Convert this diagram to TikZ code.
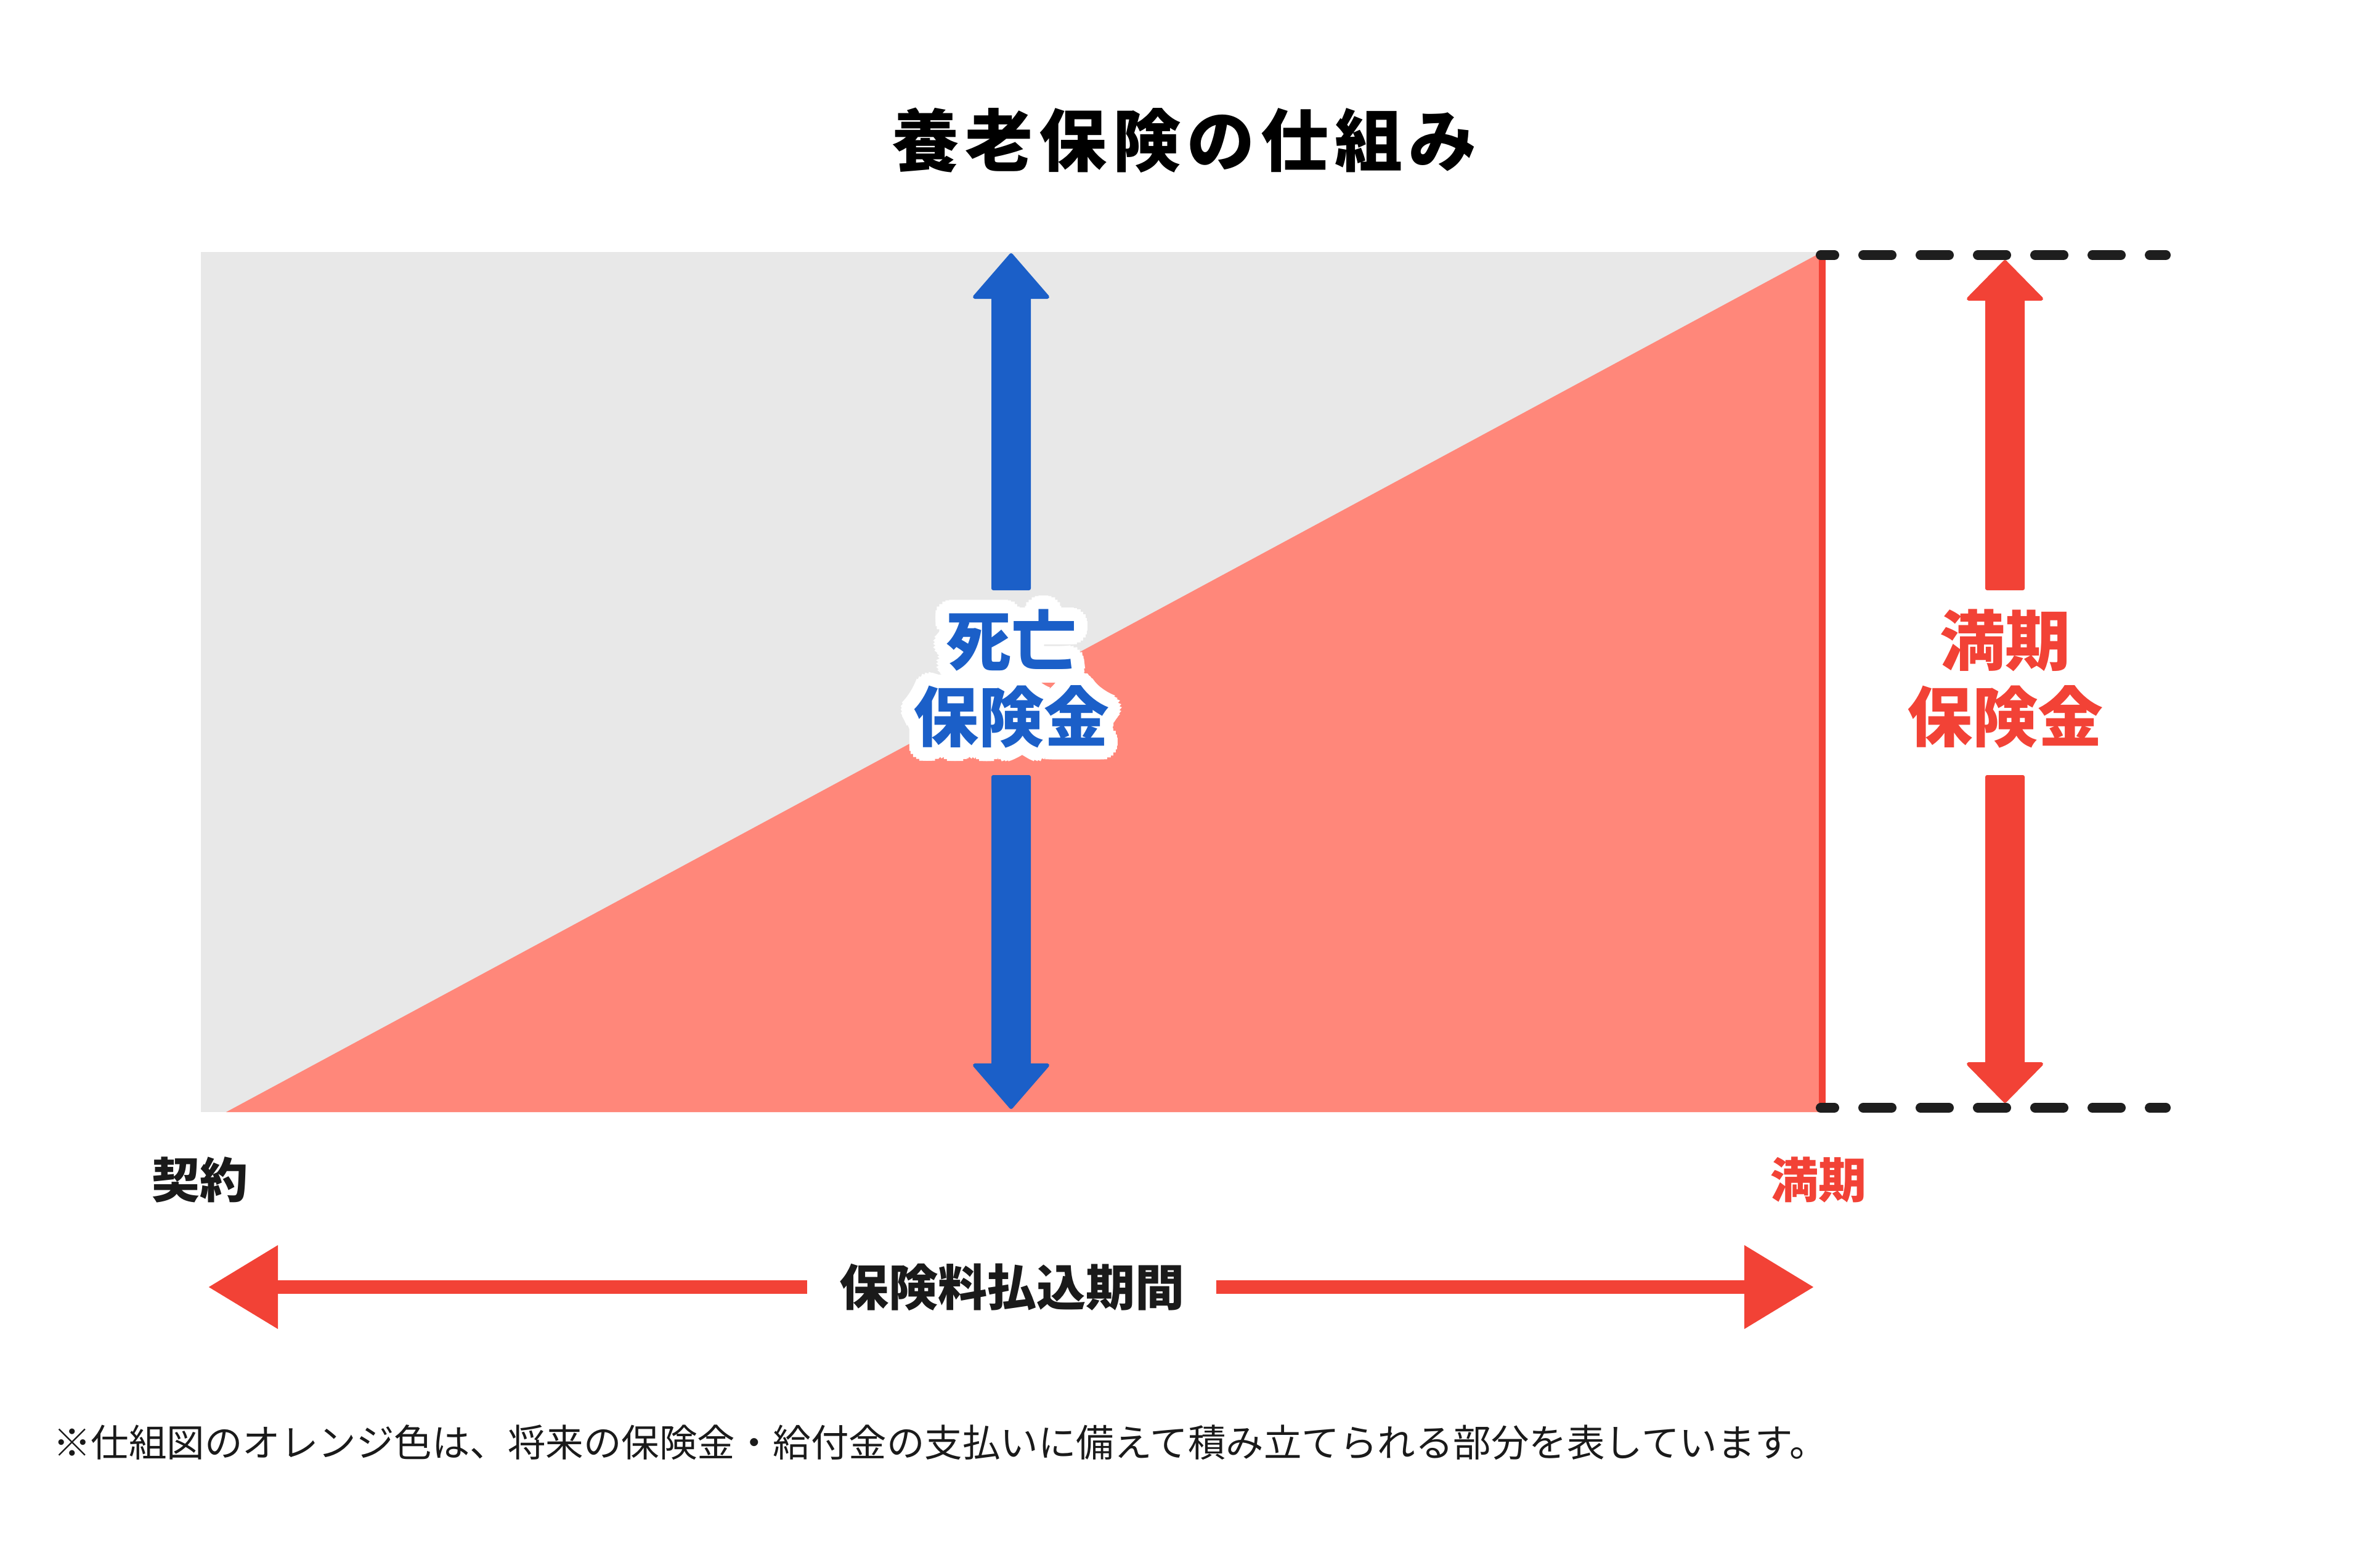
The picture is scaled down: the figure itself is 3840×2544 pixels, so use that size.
\documentclass[tikz,border=0pt]{standalone}
\usepackage{fontspec}
\setmainfont{Noto Sans CJK JP}
\usetikzlibrary{calc,arrows.meta}
\definecolor{cgray}{HTML}{E8E8E8}
\definecolor{csalmon}{HTML}{FF877A}
\definecolor{cred}{HTML}{F24236}
\definecolor{cblue}{HTML}{1B5FC8}
\definecolor{cdark}{HTML}{1E1E1E}
\definecolor{ctext}{HTML}{1A1A1A}
\newcommand\tsp{\kern10pt}
\begin{document}
\begin{tikzpicture}[x=1pt,y=-1pt,
  bigarrow/.style={line join=round, line width=6pt},
  labeltext/.style={font=\bfseries\fontsize{106}{124}\selectfont, align=center, inner sep=0pt},
  dashline/.style={cdark, line width=16pt, line cap=round, dash pattern=on 46pt off 47pt, dash phase=24pt},
  small/.style={font=\bfseries\fontsize{78}{90}\selectfont, inner sep=0pt},
  period/.style={cred, line width=22pt, -{Triangle[length=113pt,width=130pt]}}
]
\useasboundingbox (0,0) rectangle (3840,2544);
\fill[white] (0,0) rectangle (3840,2544);

% title
\node[font=\bfseries\fontsize{110}{130}\selectfont, black, inner sep=0pt] (title) at (1922,228)
  {養\tsp 老\tsp 保\tsp 険\tsp の\tsp 仕\tsp 組\tsp み};

% chart area
\coordinate (tl) at (326,409);
\coordinate (br) at (2957,1805);
\coordinate (tr) at (2957,409);
\coordinate (bl0) at (367,1805);
\fill[cgray] (tl) rectangle (br);
\fill[csalmon] (bl0) -- (tr) -- (br) -- cycle;
\draw[cred, line width=11pt] (2957,409) -- (2957,1805);

% dashed guide lines
\coordinate (dt1) at (2955,414);
\coordinate (dt2) at (3515,414);
\coordinate (db1) at (2955,1798);
\coordinate (db2) at (3515,1798);

% blue arrow (death benefit)
\filldraw[cblue, bigarrow] (1641,414) -- (1700,482) -- (1670,482) -- (1670,955) -- (1612,955) -- (1612,482) -- (1582,482) -- cycle;
\filldraw[cblue, bigarrow] (1612,1261) -- (1670,1261) -- (1670,1729) -- (1700,1729) -- (1641,1797) -- (1582,1729) -- (1612,1729) -- cycle;

% red arrow (maturity benefit)
\filldraw[cred, bigarrow] (3254,425) -- (3313,485) -- (3283,485) -- (3283,955) -- (3225,955) -- (3225,485) -- (3195,485) -- cycle;
\filldraw[cred, bigarrow] (3225,1261) -- (3283,1261) -- (3283,1727) -- (3313,1727) -- (3254,1787) -- (3195,1727) -- (3225,1727) -- cycle;

\draw[dashline] (dt1) -- (dt2);
\draw[dashline] (db1) -- (db2);

% halo for blue label
\foreach \a in {0,15,...,345} {
  \node[labeltext, white] (haloA\a) at ($(1641,1102)+(\a:22)$) {死亡\\保険金};
}
\foreach \a in {0,45,...,315} {
  \node[labeltext, white] (haloB\a) at ($(1641,1102)+(\a:11)$) {死亡\\保険金};
}
\node[labeltext, cblue] (death) at (1641,1102) {死亡\\保険金};
\node[labeltext, cred] (maturity) at (3254,1102) {満期\\保険金};

% axis labels
\node[small, ctext] (start) at (324,1915) {契約};
\node[small, cred] (end) at (2951,1915) {満期};

% premium payment period
\node[font=\bfseries\fontsize{80}{96}\selectfont, ctext, inner sep=0pt] (period) at (1642,2089) {保険料払込期間};
\coordinate (pl) at (338,2089);
\coordinate (pr) at (2944,2089);
\draw[period] ([xshift=-52pt]period.west) -- (pl);
\draw[period] ([xshift=52pt]period.east) -- (pr);

% footnote
\node[anchor=west, font=\fontsize{61.5}{72}\selectfont, ctext, inner sep=0pt] (note) at (86,2341)
  {※仕組図のオレンジ色は、将来の保険金・給付金の支払いに備えて積み立てられる部分を表しています。};
\end{tikzpicture}
\end{document}
